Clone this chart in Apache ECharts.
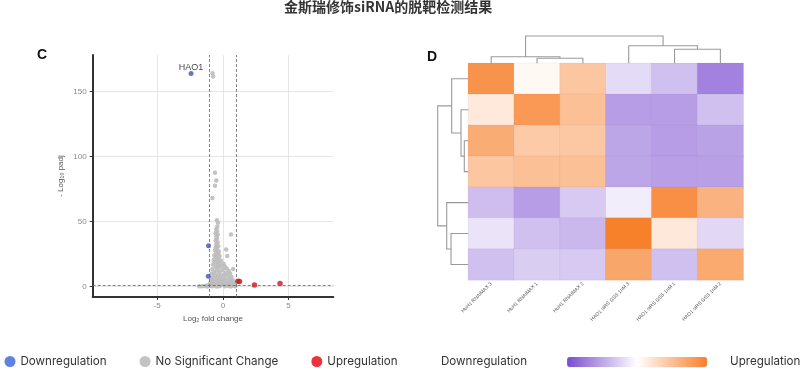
<!DOCTYPE html>
<html>
<head>
<meta charset="utf-8">
<script src="https://cdn.jsdelivr.net/npm/echarts@6/dist/echarts.min.js"></script>
<style>html,body{margin:0;padding:0;background:#fff}#c{width:800px;height:368px}</style>
</head>
<body>
<div id="c"></div>
<script>
// ---------- Panel C : volcano plot ----------
const downPoints = [[-2.42, 163.8], [-1.09, 31.3], [-1.11, 7.9]];
const upPoints = [[1.14, 4.1], [1.27, 3.85], [2.4, 1.3], [4.35, 2.3]];
const nsPoints = [
  [-0.78,164],[-0.74,161.5],[-0.6,87.5],[-0.5,81.5],[-0.6,77.5],[-0.8,68],[-0.45,51],[-0.38,49],[-0.42,46],
  [0.62,40],[0.25,28.5],[0.33,23.5],[0.78,13.5],
  [-0.5,44],[-0.45,42.5],[-0.55,41],[-0.4,40],[-0.5,38.5],[-0.45,37],[-0.55,35.5],[-0.4,34],[-0.5,32.5],
  [-0.35,31],[-0.55,30],[-0.45,29],[-0.6,28],[-0.3,27],[-0.5,26],[-0.4,25],[-0.65,24],[-0.25,23.5],
  [-0.55,22.5],[-0.35,21.5],[-0.7,20.5],[-0.15,20],[-0.45,19.5],[-0.6,18.5],[-0.25,18],[0.05,17.5],
  [-0.75,17],[-0.4,16.5],[-0.1,16],[0.15,15.5],[-0.55,15],[-0.3,14.5],[0.3,14],[-0.8,13.5],[0,13],
  [-0.45,12.5],[0.45,12],[-0.2,11.5],[-0.65,11],[0.2,10.5],[-0.85,10],[0.55,10],[-0.35,9.5],[0.05,9],
  [-0.6,8.5],[0.35,8.5],[-0.15,8],[0.65,7.5],[-0.8,7],[-0.45,7],[0.15,6.5],[-0.25,6],[0.5,6],[-0.9,5.5],
  [-0.6,5],[0.75,5],[0,5],[-0.35,4.5],[0.3,4.5],[-0.75,4],[0.6,4],[-0.1,3.5],[-0.95,3],[0.85,3],[-0.5,3],
  [0.2,3],[-0.25,2.5],[0.45,2.5],[-0.7,2],[0.7,2],[-0.05,2],[-1.0,1.5],[-0.4,1.5],[0.3,1.5],[0.9,1.2],
  [-0.85,1],[0.55,1],[0.1,1],[-1.2,0.8],[-0.6,0.8],[-0.2,0.6],[0.75,0.6],[-1.4,0.5],[-1.0,0.4],[0.4,0.4],
  [-1.6,0.3],[-0.3,0.3],[0.95,0.3],[-1.8,0.2],[-0.8,0.2],[0.15,0.2],[0.6,0.1],[-1.2,0.1],[-0.5,0.1]
];
const fcThresholds = [-1, 1];
const padjThreshold = 1.3;
const xTicks = [-5, 0, 5];
const yTicks = [0, 50, 100, 150];
const labelledGene = 'HAO1';

// ---------- Panel D : heatmap ----------
const sampleNames = ['HuH1 RNAiMAX 3', 'HuH1 RNAiMAX 1', 'HuH1 RNAiMAX 2',
  'HAO1 siRS GSS 1nM 3', 'HAO1 siRS GSS 1nM 1', 'HAO1 siRS GSS 1nM 2'];
const geneRows = ['g1', 'g2', 'g3', 'g4', 'g5', 'g6', 'g7'];
const zScores = [
  [0.85, 0.05, 0.45, -0.2, -0.35, -0.7],
  [0.17, 0.8, 0.5, -0.55, -0.55, -0.35],
  [0.65, 0.42, 0.43, -0.5, -0.55, -0.52],
  [0.45, 0.5, 0.5, -0.5, -0.53, -0.53],
  [-0.37, -0.55, -0.3, -0.1, 0.88, 0.6],
  [-0.15, -0.35, -0.4, 1.0, 0.18, -0.22],
  [-0.35, -0.28, -0.3, 0.7, -0.35, 0.68]
];
// dendrogram merges: [posA, posB, mergeHeight, heightA, heightB]
const colMerges = [
  [1.5, 2.5, 5, 0, 0],
  [0.5, 2.0, 6.6, 0, 5],
  [4.5, 5.5, 14, 0, 0],
  [3.5, 5.0, 17.6, 0, 14],
  [1.25, 4.25, 27.3, 6.6, 17.6]
];
const rowMerges = [
  [2.5, 3.5, 4, 0, 0],
  [1.5, 3.0, 7.3, 0, 4],
  [0.5, 2.25, 16.6, 0, 7.3],
  [5.5, 6.5, 17.3, 0, 0],
  [4.5, 6.0, 21.6, 0, 17.3],
  [1.375, 5.25, 30.6, 16.6, 21.6]
];

const heatData = [];
zScores.forEach((row, r) => row.forEach((v, c) => heatData.push([c, r, v])));

function dendroRender(horizontal) {
  return function (params, api) {
    const a = api.value(0), b = api.value(1), h = api.value(2), ha = api.value(3), hb = api.value(4);
    const pt = (pos, hh) => horizontal ? api.coord([pos, hh]) : api.coord([hh, pos]);
    return {
      type: 'polyline',
      shape: { points: [pt(a, ha), pt(a, h), pt(b, h), pt(b, hb)] },
      style: { stroke: '#9a9a9a', lineWidth: 1.1, fill: null }
    };
  };
}

const chart = echarts.init(document.getElementById('c'));
const axisTextColor = '#8a8a8a';
const legendFont = { fontFamily: 'Inter', fontSize: 11.6, color: '#333' };
chart.setOption({
  animation: false,
  title: {
    text: '金斯瑞修饰siRNA的脱靶检测结果',
    left: 284, top: 0, padding: 0,
    textStyle: { fontFamily: 'Noto Sans CJK SC', fontSize: 14, fontWeight: 'bold', color: '#333' }
  },
  graphic: [
    { type: 'text', left: 37, top: 48, style: { text: 'C', fontFamily: 'Liberation Sans', fontWeight: 'bold', fontSize: 14, fill: '#111' } },
    { type: 'text', left: 427, top: 50, style: { text: 'D', fontFamily: 'Liberation Sans', fontWeight: 'bold', fontSize: 14, fill: '#111' } }
  ],
  legend: {
    left: 4.5, bottom: 0.5, padding: 0,
    icon: 'circle', itemWidth: 11, itemHeight: 11, itemGap: 33,
    textStyle: legendFont,
    data: [
      { name: 'Downregulation', itemStyle: { color: '#3a64d8' } },
      { name: 'No Significant Change', itemStyle: { color: '#bdbdbd' } },
      { name: 'Upregulation', itemStyle: { color: '#e8000b' } }
    ]
  },
  visualMap: {
    type: 'continuous', seriesIndex: 3, min: -1, max: 1,
    orient: 'horizontal', left: 441, bottom: 0, padding: 0,
    itemWidth: 10, itemHeight: 140, calculable: false,
    text: ['Upregulation', 'Downregulation'], textGap: 23,
    textStyle: Object.assign({ padding: [0, 17, 0, 0] }, legendFont),
    inRange: { color: ['#7a4cd0', '#ffffff', '#f7802b'] }
  },
  grid: [
    { left: 92.7, top: 55, width: 240.6, height: 242 },
    { left: 468.3, top: 63.3, width: 275, height: 216.7 },
    { left: 468.3, top: 36, width: 275, height: 27.3 },
    { left: 437.7, top: 63.3, width: 30.6, height: 216.7 }
  ],
  xAxis: [
    {
      gridIndex: 0, type: 'value', min: -9.9, max: 8.4,
      name: 'Log₂ fold change', nameLocation: 'middle', nameGap: 14,
      nameTextStyle: { fontSize: 8, color: '#555' },
      axisLine: { onZero: false, lineStyle: { color: '#333', width: 2 } },
      axisTick: { show: true, length: 3, customValues: xTicks, lineStyle: { color: '#333' } },
      axisLabel: { customValues: xTicks, fontSize: 8, color: axisTextColor, margin: 5 },
      splitLine: { show: true, lineStyle: { color: '#e6e6e6', width: 1 } }
    },
    {
      gridIndex: 1, type: 'category', data: sampleNames,
      axisLine: { show: false }, axisTick: { show: false },
      axisLabel: { rotate: 45, fontSize: 5, color: '#555', margin: 3, interval: 0 }
    },
    { gridIndex: 2, type: 'value', min: 0, max: 6, show: false },
    { gridIndex: 3, type: 'value', min: 0, max: 30.6, inverse: true, show: false }
  ],
  yAxis: [
    {
      gridIndex: 0, type: 'value', min: -8, max: 178,
      name: '- Log₁₀ padj', nameLocation: 'middle', nameGap: 28, nameRotate: 90,
      nameTextStyle: { fontSize: 8, color: '#555' },
      axisLine: { onZero: false, lineStyle: { color: '#333', width: 2 } },
      axisTick: { show: true, length: 3, customValues: yTicks, lineStyle: { color: '#333' } },
      axisLabel: { customValues: yTicks, fontSize: 8, color: axisTextColor, margin: 6 },
      splitLine: { show: true, lineStyle: { color: '#e6e6e6', width: 1 } }
    },
    {
      gridIndex: 1, type: 'category', data: geneRows, inverse: true,
      axisLine: { show: false }, axisTick: { show: false }, axisLabel: { show: false }
    },
    { gridIndex: 2, type: 'value', min: 0, max: 27.3, show: false },
    { gridIndex: 3, type: 'value', min: 0, max: 7, inverse: true, show: false }
  ],
  series: [
    {
      name: 'No Significant Change', type: 'scatter', xAxisIndex: 0, yAxisIndex: 0,
      data: nsPoints, symbolSize: 4.5,
      itemStyle: { color: '#bdbdbd', opacity: 0.9 },
      markLine: {
        silent: true, symbol: 'none', label: { show: false },
        lineStyle: { type: [3, 2], color: '#666', width: 0.8 },
        data: [
          { xAxis: fcThresholds[0] }, { xAxis: fcThresholds[1] }, { yAxis: padjThreshold }
        ]
      }
    },
    {
      name: 'Downregulation', type: 'scatter', xAxisIndex: 0, yAxisIndex: 0,
      data: downPoints.map((p, i) => i === 0 ? {
        value: p,
        label: { show: true, formatter: labelledGene, position: 'top', distance: -1, fontSize: 9, color: '#111' }
      } : p),
      symbolSize: 5, itemStyle: { color: '#4452bd' }
    },
    {
      name: 'Upregulation', type: 'scatter', xAxisIndex: 0, yAxisIndex: 0,
      data: upPoints, symbolSize: 5.5, itemStyle: { color: '#d2141e' }
    },
    {
      type: 'heatmap', xAxisIndex: 1, yAxisIndex: 1, data: heatData,
      itemStyle: { borderColor: 'rgba(120,100,140,0.12)', borderWidth: 0.6 }
    },
    {
      type: 'custom', xAxisIndex: 2, yAxisIndex: 2, data: colMerges,
      renderItem: dendroRender(true), silent: true
    },
    {
      type: 'custom', xAxisIndex: 3, yAxisIndex: 3, data: rowMerges,
      renderItem: dendroRender(false), silent: true
    }
  ]
});
</script>
</body>
</html>
